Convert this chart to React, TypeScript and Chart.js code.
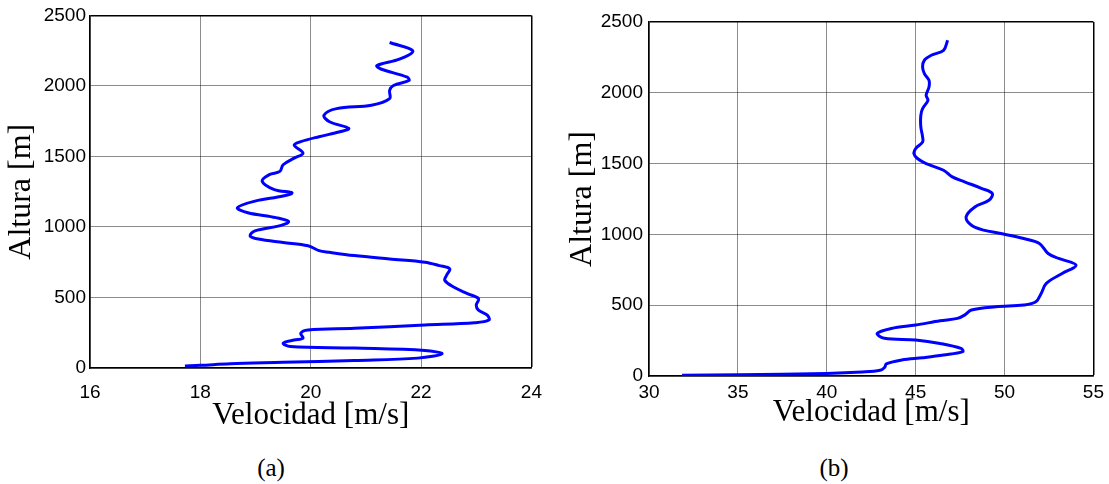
import React, { useEffect, useRef } from "react";
import { Chart, registerables } from "chart.js";

Chart.register(...registerables);

// Panel (a)
const velocityA = [17.72, 18.0, 18.54, 19.5, 20.79, 21.94, 22.38, 22.07, 20.79, 19.63, 19.5, 19.7, 19.86, 19.82, 19.95, 20.79, 22.07, 22.97, 23.23, 23.2, 23.04, 23.0, 23.04, 22.84, 22.59, 22.43, 22.46, 22.52, 22.33, 22.07, 21.43, 20.79, 20.34, 20.15, 19.95, 19.5, 19.05, 18.9, 18.99, 19.43, 19.6, 19.37, 18.86, 18.67, 18.99, 19.5, 19.66, 19.34, 19.12, 19.25, 19.44, 19.5, 19.7, 19.86, 19.7, 19.82, 20.15, 20.53, 20.69, 20.34, 20.24, 20.47, 21.1, 21.43, 21.43, 21.5, 21.78, 21.75, 21.27, 21.2, 21.62, 21.85, 21.43];
const altitudeA = [15, 19, 30, 40, 54, 70, 101, 124, 141, 152, 176, 199, 211, 246, 269, 281, 305, 321, 340, 375, 410, 445, 492, 527, 574, 621, 656, 703, 726, 750, 773, 797, 820, 832, 867, 890, 914, 937, 972, 1008, 1038, 1066, 1101, 1136, 1183, 1219, 1242, 1265, 1324, 1371, 1394, 1441, 1488, 1523, 1581, 1605, 1640, 1675, 1699, 1746, 1792, 1839, 1863, 1910, 1968, 2003, 2038, 2062, 2120, 2144, 2191, 2249, 2308];

// Panel (b)
const velocityB = [31.86, 35.0, 40.0, 42.0, 43.0, 43.25, 43.35, 44.22, 45.39, 46.57, 47.65, 47.55, 46.37, 45.0, 43.24, 42.84, 43.63, 45.0, 46.37, 47.35, 47.75, 48.14, 49.51, 51.08, 51.76, 52.06, 52.35, 53.24, 54.02, 53.04, 52.45, 51.96, 51.08, 49.8, 48.82, 48.14, 47.84, 48.33, 49.12, 49.31, 48.73, 47.75, 47.06, 46.57, 45.59, 45.1, 44.9, 45.0, 45.39, 45.39, 45.29, 45.29, 45.39, 45.69, 45.59, 45.75, 45.75, 45.49, 45.39, 45.49, 45.88, 46.57, 46.8];
const altitudeB = [5, 9, 18, 28, 40, 60, 85, 113, 129, 148, 172, 195, 230, 254, 266, 301, 336, 360, 390, 407, 430, 466, 489, 501, 524, 583, 654, 724, 783, 830, 865, 936, 971, 1006, 1030, 1065, 1124, 1194, 1241, 1289, 1324, 1371, 1406, 1453, 1500, 1536, 1571, 1606, 1653, 1689, 1759, 1841, 1888, 1947, 1983, 2041, 2088, 2136, 2183, 2230, 2265, 2300, 2371];

const yMin = 0;
const yMax = 2500;
const yStep = 500;
const xRangeA = [16, 24, 2];
const xRangeB = [30, 55, 5];

const xTitle = "Velocidad [m/s]";
const yTitle = "Altura [m]";

type PanelProps = {
  velocity: number[];
  altitude: number[];
  xRange: number[];
  width: number;
  height: number;
  padTop: number;
  padRight: number;
  yAxisWidth: number;
  xAxisHeight: number;
  xTickPad: number;
  yTickPad: number;
  xTitlePad: number;
  yTitlePad: number;
};

function Panel(p: PanelProps) {
  const ref = useRef<HTMLCanvasElement | null>(null);
  useEffect(() => {
    if (!ref.current) return;
    const [xMin, xMax, xStep] = p.xRange;
    const pts = p.velocity.map((v, i) => ({ x: v, y: p.altitude[i] }));
    const gridColor = (edge: number) => (c: any) =>
      c.tick && c.tick.value === edge ? "#000" : "rgba(0,0,0,0.45)";
    const gridWidth = (edge: number) => (c: any) =>
      c.tick && c.tick.value === edge ? 1.5 : 1;
    const tickFont = { family: '"Liberation Sans", Arial, sans-serif', size: 19 };
    const titleFont = { family: '"Liberation Serif", "Times New Roman", serif', size: 31 };
    const plain = (v: any) => String(v);
    const chart = new Chart(ref.current, {
      type: "scatter",
      data: {
        datasets: [
          {
            data: pts,
            showLine: true,
            borderColor: "#0000ff",
            backgroundColor: "#0000ff",
            borderWidth: 3,
            pointRadius: 0,
            tension: 0.35,
            fill: false,
          },
        ],
      },
      options: {
        animation: false,
        responsive: false,
        devicePixelRatio: 1,
        layout: { padding: { top: p.padTop, right: p.padRight, left: 0, bottom: 0 } },
        plugins: { legend: { display: false }, tooltip: { enabled: false } },
        scales: {
          x: {
            type: "linear",
            min: xMin,
            max: xMax,
            ticks: { stepSize: xStep, padding: p.xTickPad, color: "#000", font: tickFont, maxRotation: 0, autoSkip: false, callback: plain },
            grid: { drawTicks: false, color: gridColor(xMax), lineWidth: gridWidth(xMax) },
            border: { color: "#000", width: 1.5 },
            title: { display: true, text: xTitle, color: "#000", font: titleFont, padding: { top: 0, bottom: p.xTitlePad } },
            afterFit: (s: any) => {
              s.height = p.xAxisHeight;
            },
          },
          y: {
            type: "linear",
            min: yMin,
            max: yMax,
            ticks: { stepSize: yStep, padding: p.yTickPad, color: "#000", font: tickFont, autoSkip: false, callback: plain },
            grid: { drawTicks: false, color: gridColor(yMax), lineWidth: gridWidth(yMax) },
            border: { color: "#000", width: 1.5 },
            title: { display: true, text: yTitle, color: "#000", font: { ...titleFont, size: 32 }, padding: { top: p.yTitlePad, bottom: 0 } },
            afterFit: (s: any) => {
              s.width = p.yAxisWidth;
            },
          },
        },
      } as any,
    });
    return () => chart.destroy();
  }, []);
  return (
    <canvas
      ref={ref}
      width={p.width}
      height={p.height}
      style={{ width: p.width, height: p.height, display: "block" }}
    />
  );
}

const captionStyle: React.CSSProperties = {
  position: "absolute",
  top: 453,
  width: 60,
  textAlign: "center",
  fontFamily: '"Liberation Serif", "Times New Roman", serif',
  fontSize: 25,
  lineHeight: "30px",
  color: "#000",
};

export default function App() {
  return (
    <div style={{ position: "absolute", left: 0, top: 0, width: 1109, height: 484, background: "#fff", overflow: "hidden" }}>
      <div style={{ position: "absolute", left: 0, top: 0, width: 555, height: 440, overflow: "hidden" }}>
        <Panel
          velocity={velocityA}
          altitude={altitudeA}
          xRange={xRangeA}
          width={555}
          height={440}
          padTop={13}
          padRight={21}
          yAxisWidth={90}
          xAxisHeight={72}
          xTickPad={13}
          yTickPad={4}
          xTitlePad={6}
          yTitlePad={2}
        />
      </div>
      <div style={{ position: "absolute", left: 555, top: 0, width: 554, height: 426, overflow: "hidden" }}>
        <Panel
          velocity={velocityB}
          altitude={altitudeB}
          xRange={xRangeB}
          width={554}
          height={440}
          padTop={22}
          padRight={14}
          yAxisWidth={94}
          xAxisHeight={64}
          xTickPad={5}
          yTickPad={6}
          xTitlePad={9}
          yTitlePad={8}
        />
      </div>
      <div style={{ ...captionStyle, left: 241 }}>(a)</div>
      <div style={{ ...captionStyle, left: 804 }}>(b)</div>
    </div>
  );
}
